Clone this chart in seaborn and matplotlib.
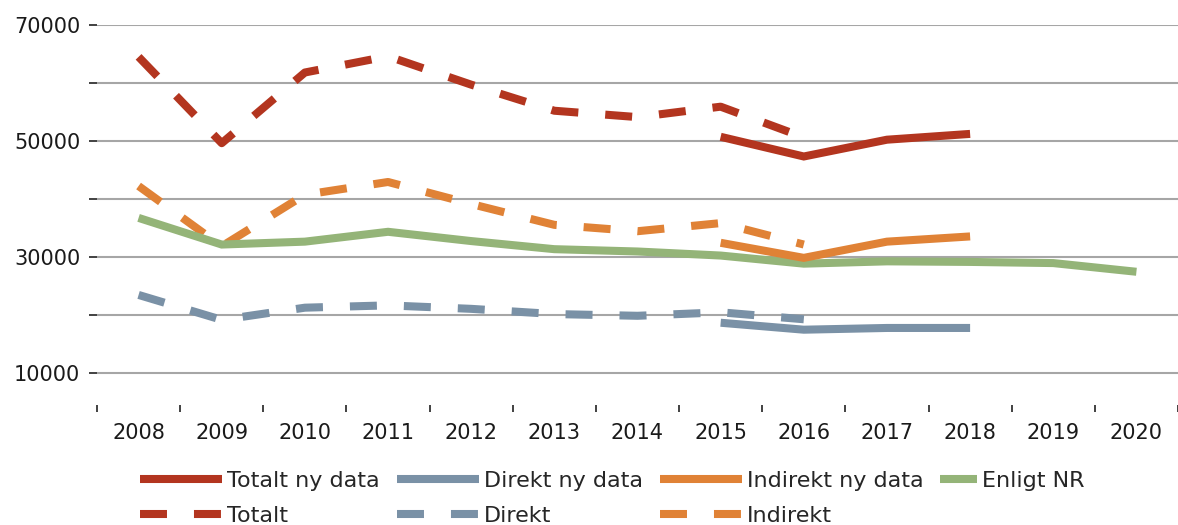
import numpy as np
import pandas as pd
import matplotlib
matplotlib.use("Agg")
import matplotlib.pyplot as plt
import seaborn as sns
from matplotlib.ticker import FixedLocator, FuncFormatter

years = ["2008", "2009", "2010", "2011", "2012", "2013", "2014",
         "2015", "2016", "2017", "2018", "2019", "2020"]
nan = np.nan
totalt_ny = [nan, nan, nan, nan, nan, nan, nan, 50700, 47300, 50200, 51200, nan, nan]
direkt_ny = [nan, nan, nan, nan, nan, nan, nan, 18600, 17400, 17700, 17700, nan, nan]
indirekt_ny = [nan, nan, nan, nan, nan, nan, nan, 32400, 29800, 32600, 33500, nan, nan]
enligt_nr = [36700, 32100, 32600, 34300, 32700, 31300, 30900, 30200, 28800, 29200, 29100, 28900, 27400]
totalt = [64500, 49600, 61800, 64600, 59700, 55200, 54100, 55900, 50600, nan, nan, nan, nan]
direkt = [23400, 19100, 21200, 21600, 21000, 20100, 19800, 20400, 19200, nan, nan, nan, nan]
indirekt = [42200, 31800, 40700, 42900, 39100, 35500, 34400, 35800, 32100, nan, nan, nan, nan]

series = [
    ("Totalt ny data", totalt_ny, "#B3351F", "solid"),
    ("Totalt", totalt, "#B3351F", "dash"),
    ("Direkt ny data", direkt_ny, "#7A91A6", "solid"),
    ("Direkt", direkt, "#7A91A6", "dash"),
    ("Indirekt ny data", indirekt_ny, "#E08236", "solid"),
    ("Indirekt", indirekt, "#E08236", "dash"),
    ("Enligt NR", enligt_nr, "#94B478", "solid"),
]

sns.set_theme(style="white")
plt.rcParams["font.family"] = ["DejaVu Sans"]

W, H = 1178, 525
fig = plt.figure(figsize=(W / 100, H / 100), dpi=100)
ax = fig.add_axes([97 / W, 1 - 405 / H, 1 - 97 / W, (405 - 25) / H])

lw = 5.8
x_idx = np.arange(len(years))
draw_order = [1, 3, 5, 6, 0, 2, 4]
for i in draw_order:
    name, vals, col, style = series[i]
    df = pd.DataFrame({"x": x_idx, "y": vals}).dropna()
    sns.lineplot(data=df, x="x", y="y", ax=ax, color=col, linewidth=lw,
                 legend=False, sort=False)
    line = ax.lines[-1]
    if style == "dash":
        line.set_dashes([3.35, 3.35])
        line.set_dash_capstyle("butt")
    line.set_solid_capstyle("butt")
    line.set_solid_joinstyle("miter")
    line.set_label(name)

ax.set_xlim(-0.5, len(years) - 0.5)
ax.set_ylim(4400, 70000)

ax.set_xticks(x_idx)
ax.set_xticklabels(years, fontsize=15, color="#1a1a1a")
ax.xaxis.set_minor_locator(FixedLocator(np.arange(-0.5, len(years), 1.0)))
ax.tick_params(axis="x", which="major", length=0, pad=13)
ax.tick_params(axis="x", which="minor", bottom=True, length=5, width=1.3, color="#333333")

ax.set_yticks(np.arange(10000, 70001, 10000))
ax.yaxis.set_major_formatter(FuncFormatter(lambda v, p: f"{int(v)}" if int(v) % 20000 == 10000 else ""))
ax.tick_params(axis="y", which="major", left=True, length=6, width=1.3, color="#333333",
               labelsize=15, labelcolor="#1a1a1a", pad=6)

ax.grid(axis="y", color="#a6a6a6", linewidth=1.5)
ax.grid(axis="x", visible=False)
ax.set_axisbelow(True)
for s in ax.spines.values():
    s.set_visible(False)
ax.set_xlabel("")
ax.set_ylabel("")

handles = {l.get_label(): l for l in ax.lines}
order = ["Totalt ny data", "Totalt", "Direkt ny data", "Direkt",
         "Indirekt ny data", "Indirekt"]
fs = 16
top = 1 - 471 / H
leg1 = fig.legend([handles[o] for o in order], order, ncol=3, loc="upper left",
                  bbox_to_anchor=(140 / W, top), frameon=False, fontsize=fs,
                  handlelength=3.7, handletextpad=0.23, columnspacing=0.75,
                  labelspacing=0.68, borderpad=0, borderaxespad=0)
leg2 = fig.legend([handles["Enligt NR"]], ["Enligt NR"], loc="upper left",
                  bbox_to_anchor=(940 / W, top), frameon=False, fontsize=fs,
                  handlelength=1.67, handletextpad=0.23,
                  borderpad=0, borderaxespad=0)

fig.savefig("out.png", dpi=100)
